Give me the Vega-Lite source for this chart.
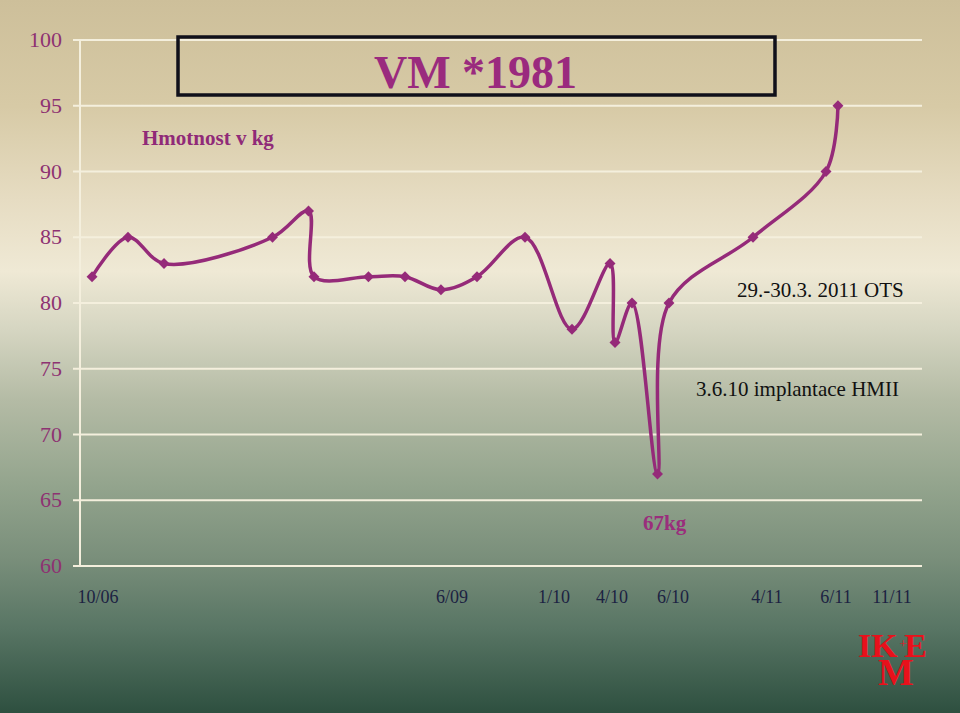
{
  "$schema": "https://vega.github.io/schema/vega-lite/v6.json",
  "width": 842,
  "height": 526,
  "autosize": {"type": "none"},
  "padding": {"left": 80, "top": 40, "right": 38, "bottom": 147},
  "background": "#8c9c84",
  "config": {"view": {"stroke": null}, "font": "Liberation Serif"},
  "datasets": {
    "weight": [
      {"t": 1.43, "kg": 82},
      {"t": 5.70, "kg": 85},
      {"t": 9.98, "kg": 83},
      {"t": 22.86, "kg": 85},
      {"t": 27.14, "kg": 87},
      {"t": 27.79, "kg": 82},
      {"t": 34.26, "kg": 82},
      {"t": 38.60, "kg": 82},
      {"t": 42.87, "kg": 81},
      {"t": 47.15, "kg": 82},
      {"t": 52.85, "kg": 85},
      {"t": 58.43, "kg": 78},
      {"t": 62.95, "kg": 83},
      {"t": 63.54, "kg": 77},
      {"t": 65.56, "kg": 80},
      {"t": 68.59, "kg": 67},
      {"t": 69.95, "kg": 80},
      {"t": 79.93, "kg": 85},
      {"t": 88.60, "kg": 90},
      {"t": 90.02, "kg": 95}
    ],
    "grid": [
      {"kg": 60}, {"kg": 65}, {"kg": 70}, {"kg": 75}, {"kg": 80},
      {"kg": 85}, {"kg": 90}, {"kg": 95}, {"kg": 100}
    ],
    "ticks": [
      {"t": 2.14, "label": "10/06"},
      {"t": 44.18, "label": "6/09"},
      {"t": 56.29, "label": "1/10"},
      {"t": 63.18, "label": "4/10"},
      {"t": 70.43, "label": "6/10"},
      {"t": 81.59, "label": "4/11"},
      {"t": 89.79, "label": "6/11"},
      {"t": 96.44, "label": "11/11"}
    ]
  },
  "layer": [
    {
      "data": {"values": [{}]},
      "mark": {
        "type": "rect",
        "fill": {
          "gradient": "linear", "x1": 0, "y1": 0, "x2": 0, "y2": 1,
          "stops": [
            {"offset": 0, "color": "#cdbf9a"},
            {"offset": 0.15, "color": "#d7caa6"},
            {"offset": 0.28, "color": "#e6dcc2"},
            {"offset": 0.38, "color": "#efe9d5"},
            {"offset": 0.46, "color": "#d6d6c2"},
            {"offset": 0.56, "color": "#b4bba5"},
            {"offset": 0.68, "color": "#93a48d"},
            {"offset": 0.78, "color": "#7a8f7b"},
            {"offset": 0.88, "color": "#587564"},
            {"offset": 1, "color": "#2d4f3f"}
          ]
        }
      },
      "encoding": {
        "x": {"datum": -9.6, "type": "quantitative", "scale": {"domain": [0, 100], "nice": false, "zero": false}, "axis": null},
        "x2": {"datum": 104.6},
        "y": {"datum": 103.1, "type": "quantitative", "scale": {"domain": [60, 100], "nice": false, "zero": false}, "axis": null},
        "y2": {"datum": 48.7}
      }
    },
    {
      "data": {"name": "grid"},
      "mark": {"type": "rule", "stroke": "#f4efdd", "strokeWidth": 2},
      "encoding": {
        "x": {"datum": -0.83, "type": "quantitative", "scale": {"domain": [0, 100], "nice": false, "zero": false}, "axis": null},
        "x2": {"datum": 100},
        "y": {"field": "kg", "type": "quantitative", "scale": {"domain": [60, 100], "nice": false, "zero": false}, "axis": null}
      }
    },
    {
      "data": {"values": [{}]},
      "mark": {"type": "rule", "stroke": "#f4efdd", "strokeWidth": 2},
      "encoding": {
        "x": {"datum": 0, "type": "quantitative", "scale": {"domain": [0, 100], "nice": false, "zero": false}, "axis": null},
        "y": {"datum": 100, "type": "quantitative", "scale": {"domain": [60, 100], "nice": false, "zero": false}, "axis": null},
        "y2": {"datum": 60}
      }
    },
    {
      "data": {"name": "grid"},
      "mark": {"type": "text", "font": "Liberation Serif", "fontSize": 22, "color": "#8e3272", "align": "right", "baseline": "middle"},
      "encoding": {
        "x": {"datum": -2.14, "type": "quantitative", "scale": {"domain": [0, 100], "nice": false, "zero": false}, "axis": null},
        "y": {"field": "kg", "type": "quantitative", "scale": {"domain": [60, 100], "nice": false, "zero": false}, "axis": null},
        "text": {"field": "kg"}
      }
    },
    {
      "data": {"values": [{}]},
      "mark": {"type": "rect", "fill": null, "stroke": "#10101a", "strokeWidth": 3.5},
      "encoding": {
        "x": {"datum": 11.64, "type": "quantitative", "scale": {"domain": [0, 100], "nice": false, "zero": false}, "axis": null},
        "x2": {"datum": 82.54},
        "y": {"datum": 100.23, "type": "quantitative", "scale": {"domain": [60, 100], "nice": false, "zero": false}, "axis": null},
        "y2": {"datum": 95.82}
      }
    },
    {
      "data": {"name": "weight"},
      "mark": {"type": "line", "interpolate": "catmull-rom", "stroke": "#952a79", "strokeWidth": 3.5},
      "encoding": {
        "x": {"field": "t", "type": "quantitative", "scale": {"domain": [0, 100], "nice": false, "zero": false}, "axis": null},
        "y": {"field": "kg", "type": "quantitative", "scale": {"domain": [60, 100], "nice": false, "zero": false}, "axis": null}
      }
    },
    {
      "data": {"name": "weight"},
      "mark": {"type": "point", "shape": "diamond", "filled": true, "size": 120, "color": "#952a79", "opacity": 1},
      "encoding": {
        "x": {"field": "t", "type": "quantitative", "scale": {"domain": [0, 100], "nice": false, "zero": false}, "axis": null},
        "y": {"field": "kg", "type": "quantitative", "scale": {"domain": [60, 100], "nice": false, "zero": false}, "axis": null}
      }
    },
    {
      "data": {"name": "ticks"},
      "mark": {"type": "text", "font": "Liberation Serif", "fontSize": 18, "color": "#1c2242", "baseline": "middle", "align": "center", "dy": 32},
      "encoding": {
        "x": {"field": "t", "type": "quantitative", "scale": {"domain": [0, 100], "nice": false, "zero": false}, "axis": null},
        "y": {"datum": 60, "type": "quantitative", "scale": {"domain": [60, 100], "nice": false, "zero": false}, "axis": null},
        "text": {"field": "label"}
      }
    },
    {
      "data": {"values": [{}]},
      "mark": {"type": "text", "font": "Liberation Serif", "fontWeight": "bold", "fontSize": 46, "color": "#9a2a7e", "align": "center", "baseline": "alphabetic"},
      "encoding": {
        "x": {"datum": 46.97, "type": "quantitative", "scale": {"domain": [0, 100], "nice": false, "zero": false}, "axis": null},
        "y": {"datum": 96.35, "type": "quantitative", "scale": {"domain": [60, 100], "nice": false, "zero": false}, "axis": null},
        "text": {"value": "VM *1981"}
      }
    },
    {
      "data": {"values": [{}]},
      "mark": {"type": "text", "font": "Liberation Serif", "fontWeight": "bold", "fontSize": 21, "color": "#902a78", "align": "left", "baseline": "alphabetic"},
      "encoding": {
        "x": {"datum": 7.36, "type": "quantitative", "scale": {"domain": [0, 100], "nice": false, "zero": false}, "axis": null},
        "y": {"datum": 92.02, "type": "quantitative", "scale": {"domain": [60, 100], "nice": false, "zero": false}, "axis": null},
        "text": {"value": "Hmotnost v kg"}
      }
    },
    {
      "data": {"values": [{}]},
      "mark": {"type": "text", "font": "Liberation Serif", "fontSize": 21, "color": "#111111", "align": "left", "baseline": "alphabetic"},
      "encoding": {
        "x": {"datum": 78.03, "type": "quantitative", "scale": {"domain": [0, 100], "nice": false, "zero": false}, "axis": null},
        "y": {"datum": 80.46, "type": "quantitative", "scale": {"domain": [60, 100], "nice": false, "zero": false}, "axis": null},
        "text": {"value": "29.-30.3. 2011 OTS"}
      }
    },
    {
      "data": {"values": [{}]},
      "mark": {"type": "text", "font": "Liberation Serif", "fontSize": 21, "color": "#111111", "align": "left", "baseline": "alphabetic"},
      "encoding": {
        "x": {"datum": 73.16, "type": "quantitative", "scale": {"domain": [0, 100], "nice": false, "zero": false}, "axis": null},
        "y": {"datum": 72.95, "type": "quantitative", "scale": {"domain": [60, 100], "nice": false, "zero": false}, "axis": null},
        "text": {"value": "3.6.10 implantace HMII"}
      }
    },
    {
      "data": {"values": [{}]},
      "mark": {"type": "text", "font": "Liberation Serif", "fontWeight": "bold", "fontSize": 21, "color": "#9a2e7c", "align": "left", "baseline": "alphabetic"},
      "encoding": {
        "x": {"datum": 66.86, "type": "quantitative", "scale": {"domain": [0, 100], "nice": false, "zero": false}, "axis": null},
        "y": {"datum": 62.74, "type": "quantitative", "scale": {"domain": [60, 100], "nice": false, "zero": false}, "axis": null},
        "text": {"value": "67kg"}
      }
    },
    {
      "data": {"values": [{}]},
      "mark": {"type": "text", "font": "Liberation Serif", "fontWeight": "bold", "fontSize": 34, "color": "#e8111b", "align": "left", "baseline": "alphabetic"},
      "encoding": {
        "x": {"datum": 92.4, "type": "quantitative", "scale": {"domain": [0, 100], "nice": false, "zero": false}, "axis": null},
        "y": {"datum": 53.08, "type": "quantitative", "scale": {"domain": [60, 100], "nice": false, "zero": false}, "axis": null},
        "text": {"value": "IK"}
      }
    },
    {
      "data": {"values": [{}]},
      "mark": {"type": "text", "font": "Liberation Serif", "fontWeight": "bold", "fontSize": 34, "color": "#e8111b", "align": "right", "baseline": "alphabetic"},
      "encoding": {
        "x": {"datum": 100.6, "type": "quantitative", "scale": {"domain": [0, 100], "nice": false, "zero": false}, "axis": null},
        "y": {"datum": 53.08, "type": "quantitative", "scale": {"domain": [60, 100], "nice": false, "zero": false}, "axis": null},
        "text": {"value": "E"}
      }
    },
    {
      "data": {"values": [{}]},
      "mark": {"type": "text", "font": "Liberation Serif", "fontSize": 13, "color": "#e8111b", "align": "center", "baseline": "middle"},
      "encoding": {
        "x": {"datum": 97.75, "type": "quantitative", "scale": {"domain": [0, 100], "nice": false, "zero": false}, "axis": null},
        "y": {"datum": 54.1, "type": "quantitative", "scale": {"domain": [60, 100], "nice": false, "zero": false}, "axis": null},
        "text": {"value": "+"}
      }
    },
    {
      "data": {"values": [{}]},
      "mark": {"type": "text", "font": "Liberation Serif", "fontWeight": "bold", "fontSize": 38, "color": "#e8111b", "align": "center", "baseline": "alphabetic"},
      "encoding": {
        "x": {"datum": 96.91, "type": "quantitative", "scale": {"domain": [0, 100], "nice": false, "zero": false}, "axis": null},
        "y": {"datum": 50.95, "type": "quantitative", "scale": {"domain": [60, 100], "nice": false, "zero": false}, "axis": null},
        "text": {"value": "M"}
      }
    }
  ]
}
